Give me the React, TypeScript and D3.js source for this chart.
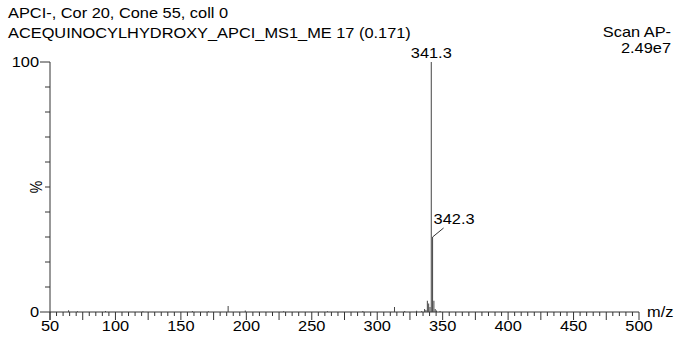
import React from 'react';
import * as d3 from 'd3';

// spectrum header
const headerLines = ['APCI-, Cor 20, Cone 55, coll 0', 'ACEQUINOCYLHYDROXY_APCI_MS1_ME 17 (0.171)'];
const scanLabel = 'Scan AP-';
const maxIntensity = '2.49e7';

// peaks (m/z, relative intensity %)
const peakMz = [64.2, 71.0, 92.4, 121.0, 158.8, 171.0, 186.1, 199.2, 228.5, 262.0, 289.0, 313.2, 321.0, 330.1, 334.0, 336.2, 337.2, 338.3, 339.3, 340.3, 341.3, 342.3, 343.3, 344.3, 345.3, 348.0];
const peakInt = [0.7, 0.3, 0.4, 0.3, 0.4, 0.3, 2.4, 0.6, 0.3, 0.3, 0.4, 2.0, 0.4, 0.5, 0.4, 1.2, 0.8, 4.5, 3.4, 2.0, 100, 30, 4.5, 1.2, 0.6, 0.4];

// labelled peaks
const labelMz = [341.3, 342.3];

const xTicksMinor = d3.range(50, 501, 5);
const xTickLabels = d3.range(50, 501, 50);
const yTicks = d3.range(0, 101, 10);

const W = 678;
const H = 344;
const font = '"Liberation Sans", Arial, sans-serif';
const SX = 1.17; // glyphs in the original are a bit wider than Arial

// stretched text, anchored at (x, y)
const T = ({ x, y, anchor = 'start', children }: { x: number; y: number; anchor?: string; children: React.ReactNode }) => (
  <text transform={`translate(${x},${y}) scale(${SX},1)`} fontSize={14} textAnchor={anchor} fill="#000">{children}</text>
);

export default function App() {
  const x = d3.scaleLinear().domain([50, 500]).range([50, 639]);
  const y = d3.scaleLinear().domain([0, 100]).range([312, 62]);
  const axisColor = '#333';

  const peaks = peakMz.map((mz, i) => ({ mz, v: peakInt[i] }));
  const p1 = peaks.find(p => p.mz === labelMz[0])!;
  const p2 = peaks.find(p => p.mz === labelMz[1])!;

  return (
    <svg width={W} height={H} style={{ position: 'absolute', left: 0, top: 0, background: '#fff' }} fontFamily={font}>
      {/* header */}
      {headerLines.map((t, i) => (
        <T key={t} x={8} y={18 + i * 20}>{t}</T>
      ))}
      <T x={671} y={37} anchor="end">{scanLabel}</T>
      <T x={671} y={53} anchor="end">{maxIntensity}</T>

      {/* y axis */}
      <line x1={50} x2={50} y1={y(100)} y2={y(0) + 8} stroke={axisColor} />
      {yTicks.map(t => (
        <line key={t} x1={t === 0 || t === 100 ? 40 : 45} x2={50} y1={y(t)} y2={y(t)} stroke={axisColor} />
      ))}
      <T x={39} y={y(100) + 5} anchor="end">100</T>
      <T x={39} y={y(0) + 5} anchor="end">0</T>
      <text transform={`translate(42,${y(50)}) rotate(-90) scale(1,${SX})`} fontSize={14} textAnchor="middle">%</text>

      {/* x axis */}
      <line x1={x(50)} x2={x(500)} y1={y(0)} y2={y(0)} stroke={axisColor} />
      {xTicksMinor.map(t => (
        <line key={'m' + t} x1={x(t)} x2={x(t)} y1={y(0)} y2={y(0) + (t % 25 === 0 ? 8 : 4)} stroke={axisColor} />
      ))}
      {xTickLabels.map(t => (
        <T key={'l' + t} x={x(t)} y={331} anchor="middle">{t}</T>
      ))}
      <T x={647} y={317}>m/z</T>

      {/* spectrum */}
      {peaks.map((p, i) => (
        <line key={i} x1={x(p.mz)} x2={x(p.mz)} y1={y(0)} y2={y(p.v)} stroke="#444" strokeWidth={1} />
      ))}

      {/* peak labels */}
      <T x={x(p1.mz)} y={y(p1.v) - 4} anchor="middle">{p1.mz.toFixed(1)}</T>
      <line x1={x(p2.mz)} y1={y(p2.v)} x2={x(p2.mz) + 11} y2={y(p2.v) - 9} stroke="#333" />
      <T x={x(p2.mz) + 1} y={y(p2.v) - 13}>{p2.mz.toFixed(1)}</T>
    </svg>
  );
}
